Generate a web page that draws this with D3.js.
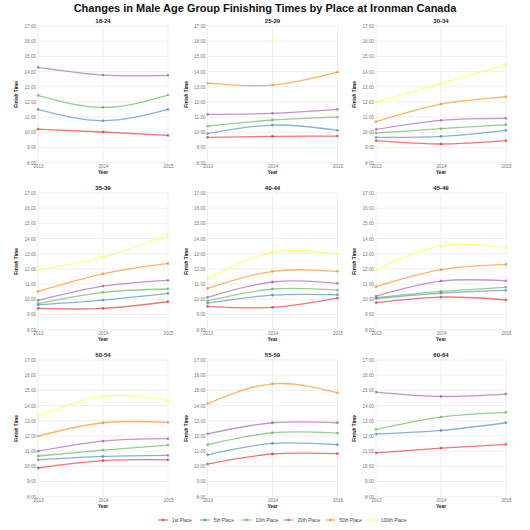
<!DOCTYPE html>
<html><head><meta charset="utf-8">
<script src="https://cdn.jsdelivr.net/npm/d3@7"></script>
<style>
body{margin:0;background:#fff;}
text{font-family:"Liberation Sans",Arial,Helvetica,sans-serif;}
</style></head>
<body><svg id="c" width="530" height="530"></svg>
<script>
const ageGroups = ["18-24","25-29","30-34","35-39","40-44","45-49","50-54","55-59","60-64"];
const years = [2013, 2014, 2015];
const placeNames = ["1st Place","5th Place","10th Place","20th Place","50th Place","100th Place"];
const yTicks = [8,9,10,11,12,13,14,15,16,17];
const yTickLabels = ["8:00","9:00","10:00","11:00","12:00","13:00","14:00","15:00","16:00","17:00"];
const placeColors = ["#e41a1c","#377eb8","#4daf4a","#984ea3","#ff7f00","#ffff33"];

// finishing times in hours, per age group, years 2013/2014/2015
const place1 = [[10.21,10.02,9.80],[9.67,9.73,9.75],[9.45,9.23,9.45],[9.40,9.40,9.84],[9.54,9.47,10.08],[9.78,10.15,9.97],[9.89,10.37,10.43],[10.15,10.81,10.83],[10.89,11.20,11.44]];
const place5 = [[11.51,10.76,11.51],[9.91,10.48,10.13],[9.67,9.73,10.13],[9.64,9.95,10.39],[9.75,10.28,10.30],[10.04,10.41,10.59],[10.43,10.65,10.72],[10.76,11.51,11.42],[12.12,12.36,12.87]];
const place10 = [[12.43,11.64,12.45],[10.41,10.81,11.00],[9.95,10.24,10.50],[9.71,10.46,10.68],[9.89,10.68,10.61],[10.11,10.52,10.79],[10.68,11.07,11.40],[11.42,12.21,12.19],[12.43,13.24,13.55]];
const place20 = [[14.27,13.77,13.75],[11.18,11.25,11.51],[10.19,10.79,10.92],[9.93,10.87,11.25],[10.13,11.14,11.05],[10.21,11.20,11.22],[11.00,11.66,11.82],[12.14,12.87,12.87],[14.89,14.60,14.75]];
const place50 = [[null,null,null],[13.24,13.11,13.96],[10.70,11.86,12.34],[10.52,11.68,12.36],[10.72,11.84,11.84],[10.83,11.95,12.30],[11.99,12.87,12.89],[14.12,15.43,14.84],[null,null,null]];
const place100 = [[null,null,null],[null,16.00,null],[11.97,13.22,14.45],[11.95,12.78,14.25],[11.33,13.09,12.98],[11.93,13.50,13.39],[13.31,14.60,14.34],[null,null,null],[null,null,null]];

const series = [place1, place5, place10, place20, place50, place100];

const svg = d3.select("#c");
svg.append("rect").attr("width",530).attr("height",530).attr("fill","#fff");

svg.append("text").attr("x",265).attr("y",12).attr("text-anchor","middle")
  .attr("font-size",11).attr("font-weight","bold").attr("fill","#111")
  .text("Changes in Male Age Group Finishing Times by Place at Ironman Canada");

const colLeft = [38, 207.5, 376];
const rowTop = [26, 193, 360];
const pw = 130, ph = 136.7;

ageGroups.forEach((ag, gi) => {
  const col = gi % 3, row = Math.floor(gi / 3);
  const g = svg.append("g").attr("transform", `translate(${colLeft[col]},${rowTop[row]})`);
  const x = d3.scaleLinear().domain([2013, 2015]).range([0, pw]);
  const y = d3.scaleLinear().domain([8, 17]).range([ph, 0]);

  // grid
  g.append("g").selectAll("line").data(yTicks).join("line")
    .attr("x1",0).attr("x2",pw).attr("y1",d=>y(d)).attr("y2",d=>y(d))
    .attr("stroke","#ebebeb").attr("stroke-width",0.8);
  g.append("g").selectAll("line").data(years).join("line")
    .attr("y1",0).attr("y2",ph).attr("x1",d=>x(d)).attr("x2",d=>x(d))
    .attr("stroke","#ebebeb").attr("stroke-width",0.8);

  // axes
  const ya = d3.axisLeft(y).tickValues(yTicks).tickFormat((d,i)=>yTickLabels[i]).tickSize(0).tickPadding(2);
  const yg = g.append("g").call(ya);
  yg.select(".domain").remove();
  yg.selectAll("text").attr("font-size",4.6).attr("fill","#777").attr("font-family","Liberation Sans, Arial, sans-serif");
  const xa = d3.axisBottom(x).tickValues(years).tickFormat(d3.format("d")).tickSize(0).tickPadding(2.5);
  const xg = g.append("g").attr("transform",`translate(0,${ph})`).call(xa);
  xg.select(".domain").remove();
  xg.selectAll("text").attr("font-size",4.6).attr("fill","#777").attr("font-family","Liberation Sans, Arial, sans-serif");

  g.append("text").attr("x",pw/2).attr("y",-3).attr("text-anchor","middle")
    .attr("font-size",6).attr("font-weight","bold").attr("fill","#222").text(ag);
  g.append("text").attr("x",pw/2).attr("y",ph+11.5).attr("text-anchor","middle")
    .attr("font-size",4.8).attr("font-weight","bold").attr("fill","#222").text("Year");
  g.append("text").attr("transform",`translate(${-20},${ph/2}) rotate(-90)`).attr("text-anchor","middle")
    .attr("font-size",4.8).attr("font-weight","bold").attr("fill","#222").text("Finish Time");

  series.forEach((s, si) => {
    const pts = years.map((yr,i)=>({yr, v:s[gi][i]})).filter(d=>d.v!=null);
    if (pts.length > 1) {
      g.append("path").datum(pts)
        .attr("d", d3.line().x(d=>x(d.yr)).y(d=>y(d.v)).curve(d3.curveNatural))
        .attr("fill","none").attr("stroke",placeColors[si]).attr("stroke-opacity",0.6).attr("stroke-width",1.3);
    }
    g.append("g").selectAll("circle").data(pts).join("circle")
      .attr("cx",d=>x(d.yr)).attr("cy",d=>y(d.v)).attr("r",1.4)
      .attr("fill",placeColors[si]).attr("fill-opacity",0.6);
  });
});

// legend
const lg = svg.append("g").attr("transform","translate(158,520)");
const lx = d3.scalePoint().domain(placeNames).range([0, 209]);
placeNames.forEach((p,i)=>{
  const gg = lg.append("g").attr("transform",`translate(${lx(p)},0)`);
  gg.append("line").attr("x1",0).attr("x2",10).attr("stroke",placeColors[i]).attr("stroke-opacity",0.6).attr("stroke-width",1.3);
  gg.append("circle").attr("cx",5).attr("r",1.4).attr("fill",placeColors[i]).attr("fill-opacity",0.6);
  gg.append("text").attr("x",14).attr("y",1.7).attr("font-size",4.8).attr("fill","#444").text(p);
});
</script></body></html>
